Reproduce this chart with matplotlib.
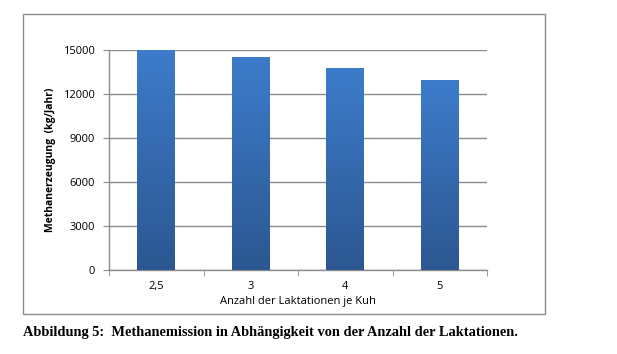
import matplotlib
matplotlib.use("Agg")
import matplotlib.pyplot as plt
import numpy as np
from matplotlib.colors import LinearSegmentedColormap
from matplotlib.patches import Rectangle

categories = ["2,5", "3", "4", "5"]
values = [15000, 14500, 13800, 12950]
yticks = [0, 3000, 6000, 9000, 12000, 15000]

fig = plt.figure(figsize=(6.17, 3.54), dpi=100)
fig.patch.set_facecolor("white")

# outer chart border
fig.add_artist(Rectangle((23/617, 1-314/354), (545-23)/617, (314-14)/354,
                         transform=fig.transFigure, fill=False,
                         edgecolor="#8c8c8c", linewidth=1.0))

ax = fig.add_axes([109/617, 1-270/354, (487-109)/617, (270-50)/354])

cmap = LinearSegmentedColormap.from_list("g", ["#2c5791", "#3d7ccb"])
grad = np.linspace(0, 1, 256).reshape(-1, 1)
width = 0.4
x = np.arange(len(categories))
bars = ax.bar(x, values, width=width, color="none", edgecolor="none", zorder=3)
for b in bars:
    x0, y0 = b.get_x(), b.get_y()
    w, h = b.get_width(), b.get_height()
    im = ax.imshow(grad, cmap=cmap, aspect="auto", origin="lower",
                   extent=[x0, x0+w, y0, y0+h], zorder=3)
    im.set_clip_path(b)
ax.set_xlim(-0.5, len(categories)-0.5)
ax.set_ylim(0, 15000)

ax.set_yticks(yticks)
ax.set_yticklabels([str(t) for t in yticks], fontsize=8, fontfamily="Open Sans")
ax.yaxis.grid(True, color="#8c8c8c", linewidth=1.0, zorder=0)
ax.set_axisbelow(True)

ax.set_xticks(x)
ax.set_xticklabels(categories, fontsize=8, fontfamily="Open Sans")
ax.set_xticks(np.arange(-0.5, len(categories)), minor=True)
ax.tick_params(axis="x", which="major", length=0, pad=8)
ax.tick_params(axis="x", which="minor", length=4, color="#8c8c8c")
ax.tick_params(axis="y", length=4, color="#8c8c8c", pad=6)

for s in ["top", "right"]:
    ax.spines[s].set_visible(False)
for s in ["left", "bottom"]:
    ax.spines[s].set_color("#8c8c8c")
    ax.spines[s].set_linewidth(1.0)

ax.set_ylabel("Methanerzeugung  (kg/Jahr)", fontsize=7.5, fontweight="bold",
              fontfamily="Open Sans", labelpad=5)
ax.set_xlabel("Anzahl der Laktationen je Kuh", fontsize=8, fontfamily="Open Sans",
              labelpad=3)

fig.text(23/617, 1-336/354,
         "Abbildung 5:  Methanemission in Abhängigkeit von der Anzahl der Laktationen.",
         fontsize=10.4, fontweight="bold", fontfamily="Liberation Serif",
         ha="left", va="baseline")

fig.savefig("out.png", dpi=100)
